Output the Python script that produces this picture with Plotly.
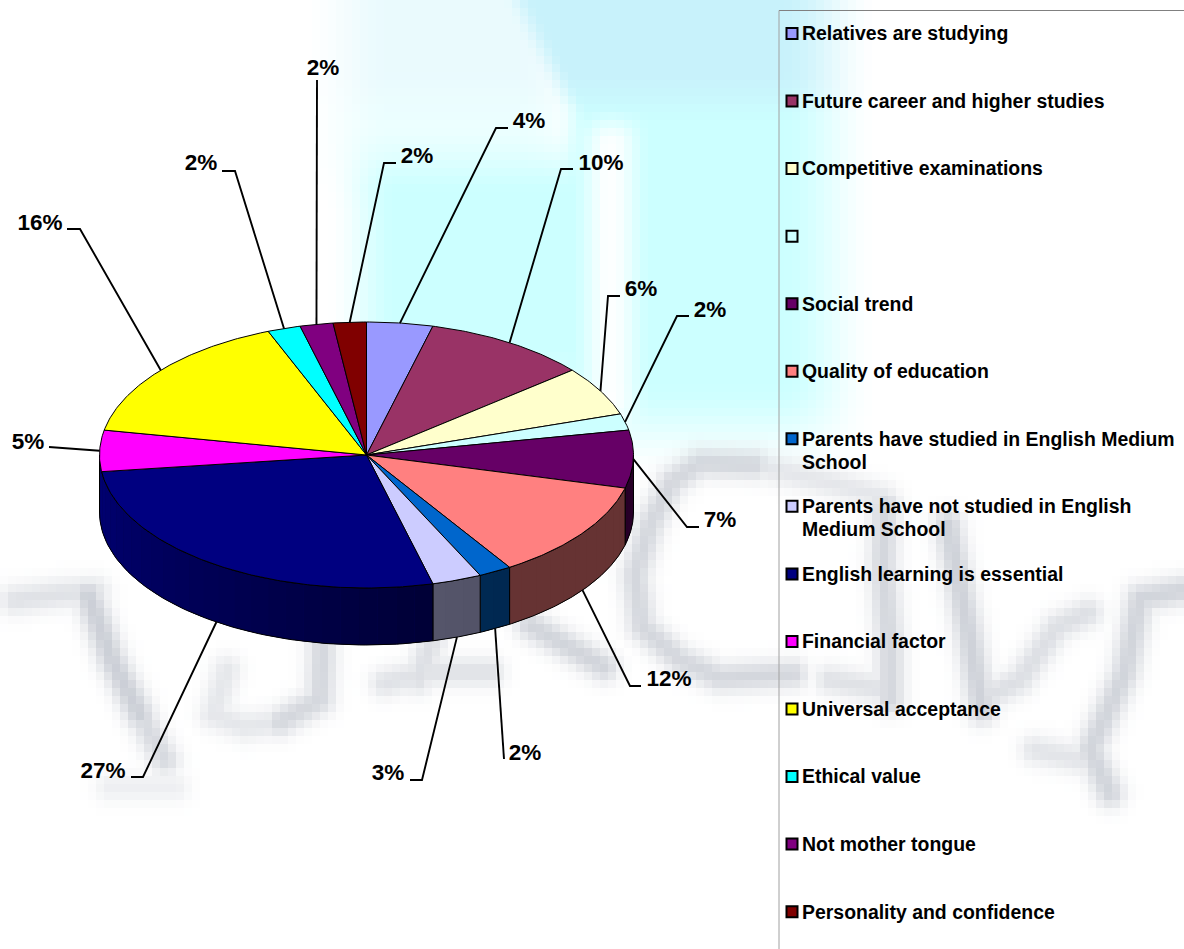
import numpy as np
import plotly.graph_objects as go

# Survey shares, clockwise from twelve o'clock
categories = [
    "Relatives are studying",
    "Future career and higher studies",
    "Competitive examinations",
    "",
    "Social trend",
    "Quality of education",
    "Parents have studied in English Medium School",
    "Parents have not studied in English Medium School",
    "English learning is essential",
    "Financial factor",
    "Universal acceptance",
    "Ethical value",
    "Not mother tongue",
    "Personality and confidence",
]
shares = [4, 10, 6, 2, 7, 12, 2, 3, 27, 5, 16, 2, 2, 2]
legend_lines = [
    ["Relatives are studying"],
    ["Future career and higher studies"],
    ["Competitive examinations"],
    [""],
    ["Social trend"],
    ["Quality of education"],
    ["Parents have studied in English Medium", "School"],
    ["Parents have not studied in English", "Medium School"],
    ["English learning is essential"],
    ["Financial factor"],
    ["Universal acceptance"],
    ["Ethical value"],
    ["Not mother tongue"],
    ["Personality and confidence"],
]
colors = ["#9999FF", "#993366", "#FFFFCC", "#CCFFFF", "#660066", "#FF8080", "#0066CC",
          "#CCCCFF", "#000080", "#FF00FF", "#FFFF00", "#00FFFF", "#800080", "#800000"]

# Page layout, in pixels
W, H = 1184, 949
CX, CY, RX, RY, DEPTH = 366.5, 455.0, 267.0, 133.0, 57.0
FONT = "Liberation Sans"
LABEL_SIZE = 22.5
LEGEND_SIZE = 19.45
LEGEND_FIRST_Y, LEGEND_STEP, LEGEND_LINE = 33.5, 67.55, 23.0
TEXT_NUDGE = 2.0

# Elbow points of each leader line, and the centre of its label
leader_paths = [
    [(496, 128), (508, 128)], [(561, 169), (573, 169)], [(608, 296), (620, 296)],
    [(677, 316), (689, 316)], [(687, 527), (699, 527)], [(630, 686), (641, 686)],
    [(504, 759)], [(422, 780), (410, 780)], [(143, 777), (131, 777)],
    [(52, 447), (49, 447)], [(80, 229), (67, 229)], [(235, 171), (222, 171)],
    [(317, 80)], [(384, 163), (396, 163)],
]
label_centres = [
    (529, 120), (601, 162), (641, 288), (710, 309), (720, 519), (669, 678),
    (525, 752), (388, 772), (103, 770), (28, 441), (40, 222), (201, 162),
    (323, 67), (417, 155),
]

# Strokes of the faded backdrop lettering, each with its own strength
watermark_strokes = [
    ([(15, 600), (60, 594), (95, 592)], 0.55),
    ([(88, 595), (112, 660), (140, 715)], 0.9),
    ([(140, 715), (165, 760)], 0.7),
    ([(110, 787), (175, 787)], 0.3),
    ([(227, 670), (213, 715), (245, 727), (280, 722)], 0.45),
    ([(280, 722), (320, 700), (322, 655), (322, 630)], 0.75),
    ([(385, 683), (428, 672), (490, 672)], 0.55),
    ([(432, 640), (418, 680)], 0.6),
    ([(530, 625), (565, 645), (604, 667)], 0.8),
    ([(755, 465), (700, 463), (672, 482), (650, 525), (635, 575), (642, 627), (680, 660), (720, 678), (793, 674)], 0.75),
    ([(755, 465), (830, 483), (883, 497)], 0.45),
    ([(885, 505), (883, 567), (890, 650), (890, 700)], 0.75),
    ([(830, 680), (885, 690)], 0.55),
    ([(948, 525), (970, 640), (982, 710)], 0.85),
    ([(982, 700), (1020, 680), (1057, 627), (1088, 613)], 0.6),
    ([(1184, 590), (1140, 598), (1125, 673), (1090, 750), (1110, 793)], 0.8),
    ([(1035, 750), (1090, 762)], 0.5),
]


def smooth(v, a, b):
    t = np.clip((v - a) / (b - a), 0, 1)
    return t * t * (3 - 2 * t)


def soft_box(x, y, x0, x1, y0, y1, soft):
    return (smooth(x, x0 - soft, x0 + soft) * (1 - smooth(x, x1 - soft, x1 + soft))
            * smooth(y, y0 - soft, y0 + soft) * (1 - smooth(y, y1 - soft, y1 + soft)))


def segment_distance(x, y, p, q):
    px, py = p
    qx, qy = q
    dx, dy = qx - px, qy - py
    t = np.clip(((x - px) * dx + (y - py) * dy) / (dx * dx + dy * dy), 0, 1)
    return np.hypot(x - px - t * dx, y - py - t * dy)


def backdrop(cell=8):
    """Blocky pale-cyan glow with grey lettering, as an RGB array."""
    xs = np.arange(0, W, cell) + cell / 2
    ys = np.arange(0, H, cell) + cell / 2
    x, y = np.meshgrid(xs, ys)
    glow_left = soft_box(x, y, 362, 640, 160, 380, 35)
    glow_faint = 0.38 * soft_box(x, y, 345, 560, -80, 180, 45)
    edge = 515 + np.minimum(y, 110) * 0.5
    glow_main = smooth(x, edge - 14, edge + 18) * (1 - smooth(x, 780, 880)) * (1 - smooth(y, 380, 480))
    gap = soft_box(x, y, 590, 632, 125, 420, 20)
    cyan = (1 - (1 - glow_left) * (1 - glow_faint) * (1 - glow_main)) * (1 - 0.95 * gap)
    blue_top = 1 - smooth(y, 70, 130)
    shade = np.zeros(x.shape)
    for stroke, strength in watermark_strokes:
        dist = np.full(x.shape, 1e9)
        for p, q in zip(stroke[:-1], stroke[1:]):
            dist = np.minimum(dist, segment_distance(x, y, p, q))
        shade = np.maximum(shade, strength * np.exp(-(dist / 15.0) ** 2))
    rgb = np.ones(x.shape + (3,))
    for i, (low, high) in enumerate(((0xCC, 0xC8), (0xFF, 0xF2), (0xFF, 0xFB))):
        channel = low * (1 - blue_top) + high * blue_top
        rgb[..., i] = 255 * (1 - cyan) + channel * cyan
    for i, channel in enumerate((0xC6, 0xCA, 0xD2)):
        rgb[..., i] = rgb[..., i] * (1 - shade) + channel * shade
    return np.round(rgb).astype(np.uint8), cell


def ellipse(theta_deg):
    t = np.radians(theta_deg)
    return CX + RX * np.sin(t), CY - RY * np.cos(t)


def scaled_colour(hex_colour, k):
    r, g, b = (int(hex_colour[i:i + 2], 16) for i in (1, 3, 5))
    return f"rgb({int(r * k)},{int(g * k)},{int(b * k)})"


def wall_shade(theta):
    # Front wall: flat on the right, brightening towards the left-hand side
    return float(np.interp(theta, [0, 150, 165, 262, 360], [0.4, 0.4, 0.42, 0.88, 0.88]))


fig = go.Figure()
image, cell = backdrop()
fig.add_trace(go.Image(z=image, x0=cell / 2, y0=cell / 2, dx=cell, dy=cell, hoverinfo="skip"))

edges = np.cumsum([0] + shares) / sum(shares) * 360.0

# Side wall of the disc, only the front half is visible
for i, colour in enumerate(colors):
    a, b = max(edges[i], 90.0), min(edges[i + 1], 270.0)
    if a >= 255:
        continue
    if b >= 255:
        b = 270.0
    if b <= a:
        continue
    arc = np.linspace(a, b, 80)
    ax, ay = ellipse(arc)
    outline_x = list(ax) + list(ax[::-1]) + [ax[0]]
    outline_y = list(ay + DEPTH) + list(ay[::-1]) + [ay[0] + DEPTH]
    # Base fill hides any seams between the shading bands above it
    fig.add_trace(go.Scatter(x=outline_x, y=outline_y, mode="none", fill="toself",
                             fillcolor=scaled_colour(colour, wall_shade((a + b) / 2)),
                             hoverinfo="skip", showlegend=False))
    steps = np.arange(a, b, 4.0).tolist() + [b]
    for t0, t1 in zip(steps[:-1], steps[1:]):
        band = np.linspace(t0, t1, 6)
        bx, by = ellipse(band)
        fig.add_trace(go.Scatter(x=list(bx) + list(bx[::-1]), y=list(by) + list(by[::-1] + DEPTH),
                                 mode="none", fill="toself",
                                 fillcolor=scaled_colour(colour, wall_shade((t0 + t1) / 2)),
                                 hoverinfo="skip", showlegend=False))
    fig.add_trace(go.Scatter(x=outline_x, y=outline_y, mode="lines",
                             line=dict(color="#000000", width=1),
                             hoverinfo="skip", showlegend=False))

# Top face of each slice
for i, colour in enumerate(colors):
    arc = np.linspace(edges[i], edges[i + 1], max(8, int(shares[i] * 6)))
    ax, ay = ellipse(arc)
    fig.add_trace(go.Scatter(x=[CX] + list(ax) + [CX], y=[CY] + list(ay) + [CY],
                             mode="lines", fill="toself", fillcolor=colour,
                             line=dict(color="#000000", width=1),
                             name=categories[i] or " ", text=f"{shares[i]}%",
                             hoverinfo="name+text", showlegend=False))

# Leader lines start on the rim at each slice's mid angle
for i, path in enumerate(leader_paths):
    mid = (edges[i] + edges[i + 1]) / 2
    sx, sy = ellipse(mid)
    if np.cos(np.radians(mid)) < -0.3:
        sy += DEPTH
    fig.add_trace(go.Scatter(x=[sx] + [p[0] for p in path], y=[sy] + [p[1] for p in path],
                             mode="lines", line=dict(color="#000000", width=1.9),
                             hoverinfo="skip", showlegend=False))

fig.add_trace(go.Scatter(
    x=[c[0] for c in label_centres], y=[c[1] + TEXT_NUDGE for c in label_centres],
    mode="text", text=[f"<b>{v}%</b>" for v in shares], textposition="middle center",
    textfont=dict(family=FONT, size=LABEL_SIZE, color="#000000"),
    hoverinfo="skip", showlegend=False, cliponaxis=False))

# Hand-placed key on the right
row_y = [LEGEND_FIRST_Y + k * LEGEND_STEP for k in range(len(categories))]
fig.add_trace(go.Scatter(
    x=[792] * len(colors), y=row_y, mode="markers",
    marker=dict(symbol="square", size=11, color=colors, line=dict(color="#000000", width=2)),
    hoverinfo="skip", showlegend=False))
text_x, text_y, text_s = [], [], []
for y0, lines in zip(row_y, legend_lines):
    for k, line in enumerate(lines):
        if line:
            text_x.append(802)
            text_y.append(y0 + k * LEGEND_LINE + TEXT_NUDGE)
            text_s.append(f"<b>{line}</b>")
fig.add_trace(go.Scatter(
    x=text_x, y=text_y, mode="text", text=text_s, textposition="middle right",
    textfont=dict(family=FONT, size=LEGEND_SIZE, color="#000000"),
    hoverinfo="skip", showlegend=False, cliponaxis=False))

fig.update_layout(
    width=W, height=H, margin=dict(l=0, r=0, t=0, b=0),
    paper_bgcolor="#FFFFFF", plot_bgcolor="#FFFFFF", showlegend=False,
    xaxis=dict(range=[0, W], visible=False, fixedrange=True, constrain="domain"),
    yaxis=dict(range=[H, 0], visible=False, fixedrange=True, constrain="domain"),
    shapes=[
        dict(type="line", xref="x", yref="y", x0=779, x1=W, y0=10.5, y1=10.5,
             line=dict(color="#808080", width=1)),
        dict(type="line", xref="x", yref="y", x0=779, x1=779, y0=10.5, y1=H,
             line=dict(color="#A0A0A0", width=1)),
    ],
)
fig.write_html("out.html", config={"displayModeBar": False})
